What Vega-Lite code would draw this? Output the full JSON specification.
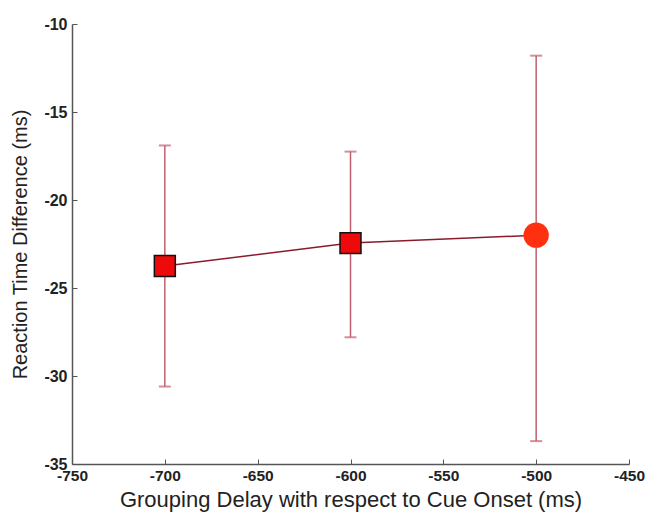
{
  "$schema": "https://vega.github.io/schema/vega-lite/v6.json",
  "width": 557,
  "height": 440,
  "autosize": "none",
  "padding": {"left": 72, "top": 24, "right": 17, "bottom": 55},
  "background": "white",
  "config": {"view": {"stroke": null}, "font": "Liberation Sans"},
  "data": {"values": [
    {"delay": -700, "rt": -23.75, "lo": -30.6, "hi": -16.9, "kind": "square"},
    {"delay": -600, "rt": -22.45, "lo": -27.8, "hi": -17.25, "kind": "square"},
    {"delay": -500, "rt": -22.0, "lo": -33.7, "hi": -11.8, "kind": "circle"}
  ]},
  "encoding": {
    "x": {"field": "delay", "type": "quantitative",
      "scale": {"domain": [-750, -450], "nice": false, "zero": false},
      "axis": {"values": [-750, -700, -650, -600, -550, -500, -450], "grid": false,
        "labelExpr": "'' + datum.value",
        "title": "Grouping Delay with respect to Cue Onset (ms)",
        "titleFontSize": 22, "titleFontWeight": "normal", "titleColor": "#222", "titlePadding": 6,
        "labelFontSize": 15.5, "labelFontWeight": "bold", "labelColor": "#222",
        "domainColor": "#555", "domainWidth": 1.5, "tickColor": "#555", "tickSize": -5, "labelPadding": 9,
        "labelFlush": false}
    }
  },
  "layer": [
    {
      "mark": {"type": "rule", "color": "#c0606e", "strokeWidth": 1.5},
      "encoding": {
        "y": {"field": "lo", "type": "quantitative",
          "scale": {"domain": [-35, -10], "nice": false, "zero": false},
          "axis": {"values": [-35, -30, -25, -20, -15, -10], "grid": false,
            "labelExpr": "'' + datum.value",
            "title": "Reaction Time Difference (ms)",
            "titleFontSize": 20, "titleFontWeight": "normal", "titleColor": "#222", "titlePadding": 13,
            "labelFontSize": 16, "labelFontWeight": "bold", "labelColor": "#222",
            "domainColor": "#555", "domainWidth": 1.5, "tickColor": "#555", "tickSize": -5, "labelPadding": 10,
            "labelFlush": false}
        },
        "y2": {"field": "hi"}
      }
    },
    {
      "mark": {"type": "tick", "orient": "horizontal", "color": "#c0606e", "size": 12, "thickness": 2},
      "encoding": {"y": {"field": "lo", "type": "quantitative"}}
    },
    {
      "mark": {"type": "tick", "orient": "horizontal", "color": "#c0606e", "size": 12, "thickness": 2},
      "encoding": {"y": {"field": "hi", "type": "quantitative"}}
    },
    {
      "mark": {"type": "line", "color": "#8b1a2a", "strokeWidth": 1.5},
      "encoding": {"y": {"field": "rt", "type": "quantitative"}}
    },
    {
      "transform": [{"filter": "datum.kind === 'square'"}],
      "mark": {"type": "square", "color": "#ee0a0a", "stroke": "#111", "strokeWidth": 1.5, "opacity": 1, "filled": true, "size": 440},
      "encoding": {"y": {"field": "rt", "type": "quantitative"}}
    },
    {
      "transform": [{"filter": "datum.kind === 'circle'"}],
      "mark": {"type": "circle", "color": "#ff3010", "opacity": 1, "size": 640},
      "encoding": {"y": {"field": "rt", "type": "quantitative"}}
    }
  ]
}
